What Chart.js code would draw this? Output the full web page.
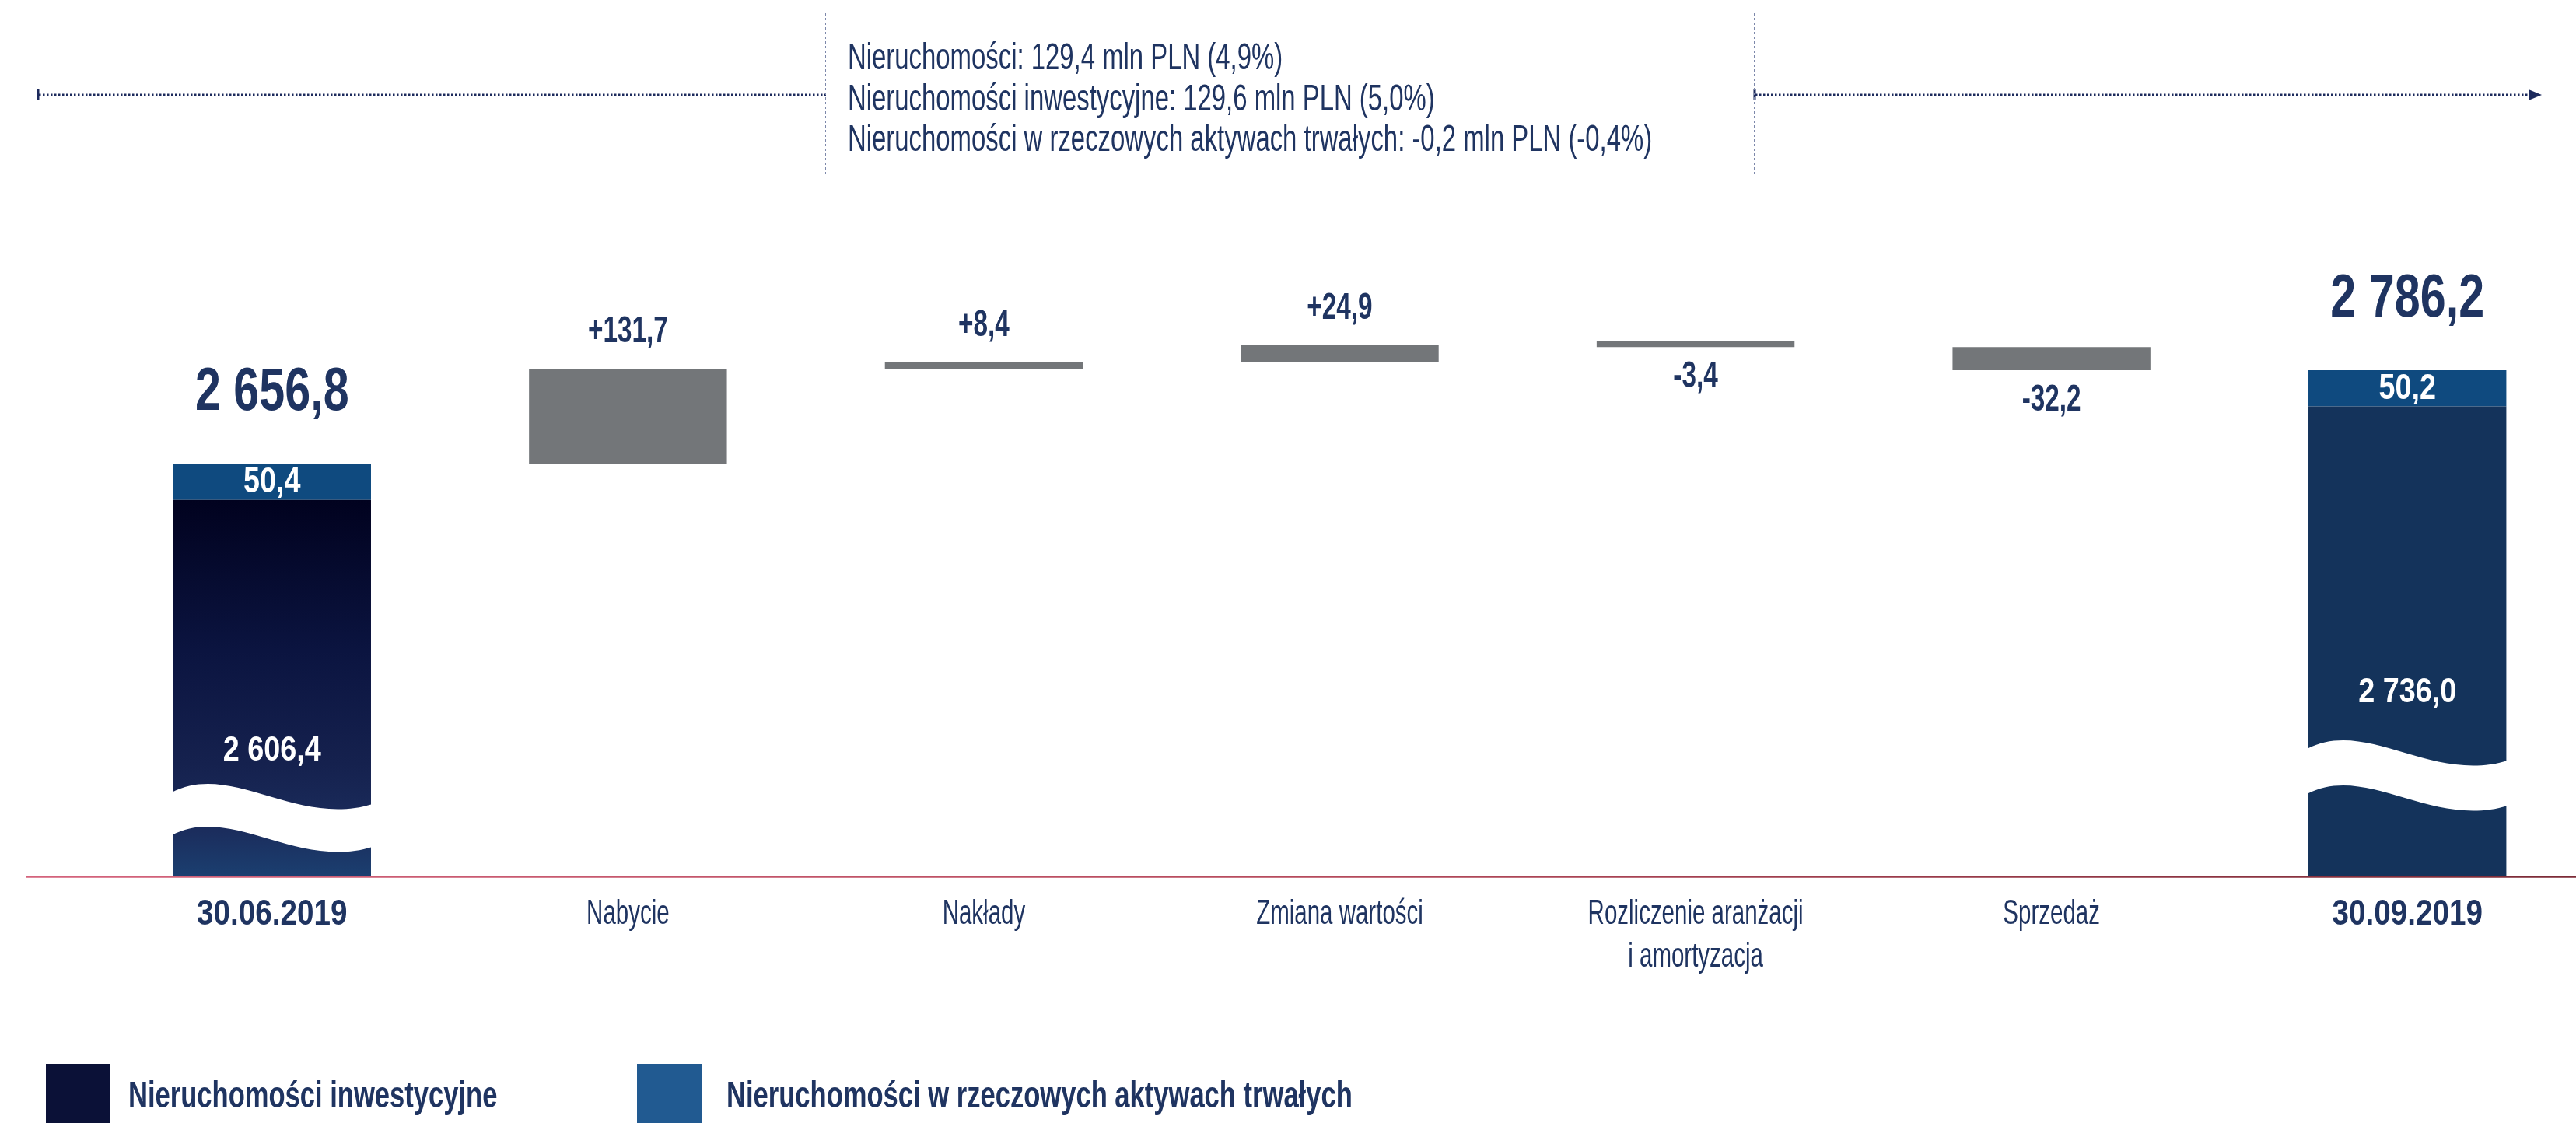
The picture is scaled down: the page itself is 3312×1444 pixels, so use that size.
<!DOCTYPE html>
<html><head><meta charset="utf-8">
<script src="https://cdn.jsdelivr.net/npm/chart.js@4/dist/chart.umd.min.js"></script>
<style>
html,body{margin:0;padding:0;background:#fff;overflow:hidden;}
#wrap{position:relative;width:3330px;height:1444px;}
</style></head><body>
<div id="wrap"><canvas id="c"></canvas></div>
<script>
// ---------------- DATA ----------------
const categories = ['30.06.2019', 'Nabycie', 'Nakłady', 'Zmiana wartości', ['Rozliczenie aranżacji', 'i amortyzacja'], 'Sprzedaż', '30.09.2019'];
const seriesNames = ['Nieruchomości inwestycyjne', 'Nieruchomości w rzeczowych aktywach trwałych'];
const investmentValues = [2606.4, 2736.0];      // start, end
const fixedAssetValues = [50.4, 50.2];          // start, end
const changeValues = [131.7, 8.4, 24.9, -3.4, -32.2];
const totalLabels = ['2 656,8', '2 786,2'];
const investmentLabels = ['2 606,4', '2 736,0'];
const fixedAssetLabels = ['50,4', '50,2'];
const changeLabels = ['+131,7', '+8,4', '+24,9', '-3,4', '-32,2'];
const summaryLines = [
  'Nieruchomości: 129,4 mln PLN (4,9%)',
  'Nieruchomości inwestycyjne: 129,6 mln PLN (5,0%)',
  'Nieruchomości w rzeczowych aktywach trwałych: -0,2 mln PLN (-0,4%)'
];
const axisMin = 2084.2;   // broken axis start
const axisMax = 2976;

// ---------------- BUILD ----------------
const N = categories.length;
const last = N - 1;
const invData = new Array(N).fill(null);
invData[0] = investmentValues[0]; invData[last] = investmentValues[1];
const fixData = new Array(N).fill(null);
fixData[0] = [investmentValues[0], investmentValues[0] + fixedAssetValues[0]];
fixData[last] = [investmentValues[1], investmentValues[1] + fixedAssetValues[1]];
const wfData = new Array(N).fill(null);
let running = investmentValues[0] + fixedAssetValues[0];
changeValues.forEach((v, i) => { wfData[i + 1] = [running, running + v]; running += v; });

const FONT = '"Liberation Sans", Arial, sans-serif';
const INK = '#1f3461';

function txt(ctx, s, x, y, o) {
  ctx.save();
  ctx.font = `${o.weight || 'normal'} ${o.size}px ${FONT}`;
  ctx.fillStyle = o.color || INK;
  ctx.textBaseline = 'middle';
  ctx.textAlign = o.align || 'center';
  ctx.translate(x, y);
  ctx.scale(o.sx || 1, 1);
  ctx.fillText(s, 0, 0);
  ctx.restore();
}

const waves = [
  { index: 0, upper: 108, band: 55, labelOff: 161 },
  { index: last, upper: 164, band: 58, labelOff: 236 }
];

function wavePath(ctx, xL, w, yL, band) {
  const xR = xL + w;
  ctx.beginPath();
  ctx.moveTo(xL, yL);
  ctx.bezierCurveTo(xL + 0.3 * w, yL - 40, xL + 0.62 * w, yL + 45, xR, yL + 15);
  ctx.lineTo(xR, yL + 15 + band);
  ctx.bezierCurveTo(xL + 0.62 * w, yL + 45 + band, xL + 0.3 * w, yL - 40 + band, xL, yL + band);
  ctx.closePath();
}

const decor = {
  id: 'decor',
  afterDatasetsDraw(chart) {
    const ctx = chart.ctx;
    const area = chart.chartArea;
    const B = area.bottom;
    const xs = chart.scales.x;
    const invMeta = chart.getDatasetMeta(0);
    const fixMeta = chart.getDatasetMeta(1);
    const wfMeta = chart.getDatasetMeta(2);

    // waves (axis break)
    waves.forEach(wv => {
      const el = invMeta.data[wv.index];
      const xL = el.x - el.width / 2 - 2;
      ctx.save();
      ctx.fillStyle = '#ffffff';
      wavePath(ctx, xL, el.width + 4, B - wv.upper, wv.band);
      ctx.fill();
      ctx.restore();
    });

    // axis line
    ctx.save();
    const g = ctx.createLinearGradient(33, 0, 3312, 0);
    g.addColorStop(0, '#d4637c');
    g.addColorStop(0.5, '#b64a5c');
    g.addColorStop(1, '#7c2b37');
    ctx.strokeStyle = g; ctx.lineWidth = 2.5;
    ctx.beginPath(); ctx.moveTo(33, B + 0.5); ctx.lineTo(3312, B + 0.5); ctx.stroke();
    ctx.restore();

    // category labels at the x-scale tick positions
    chart.data.labels.forEach((lab, i) => {
      const x = xs.getPixelForTick(i);
      const lines = Array.isArray(lab) ? lab : [lab];
      const bold = i === 0 || i === last;
      lines.forEach((ln, j) => {
        txt(ctx, ln, x, B + 49 + j * 55, bold ? { size: 46, weight: 'bold', sx: 0.84 } : { size: 44, sx: 0.67 });
      });
    });

    // total / segment labels
    [0, last].forEach((idx, k) => {
      const fe = fixMeta.data[idx];
      const top = Math.min(fe.y, fe.base), bot = Math.max(fe.y, fe.base);
      txt(ctx, totalLabels[k], fe.x, top - 90, { size: 77, weight: 'bold', sx: 0.77 });
      txt(ctx, fixedAssetLabels[k], fe.x, (top + bot) / 2 + 1, { size: 46, weight: 'bold', color: '#ffffff', sx: 0.82 });
      const wv = waves[k];
      txt(ctx, investmentLabels[k], fe.x, B - wv.labelOff, { size: 45, weight: 'bold', color: '#ffffff', sx: 0.84 });
    });

    // change labels
    changeValues.forEach((v, i) => {
      const el = wfMeta.data[i + 1];
      const top = Math.min(el.y, el.base), bot = Math.max(el.y, el.base);
      const o = { size: 49, weight: 'bold', sx: 0.68 };
      if (v >= 0) txt(ctx, changeLabels[i], el.x, top - 47, o);
      else txt(ctx, changeLabels[i], el.x, bot + 38, o);
    });

    // top annotation
    ctx.save();
    ctx.strokeStyle = '#1c2a5c'; ctx.lineWidth = 3; ctx.setLineDash([2.5, 2.5]);
    ctx.beginPath(); ctx.moveTo(50, 122); ctx.lineTo(1062, 122); ctx.stroke();
    ctx.beginPath(); ctx.moveTo(2257, 122); ctx.lineTo(3254, 122); ctx.stroke();
    ctx.setLineDash([]);
    ctx.lineWidth = 3;
    ctx.beginPath(); ctx.moveTo(49, 115); ctx.lineTo(49, 129); ctx.stroke();
    ctx.beginPath(); ctx.moveTo(2256, 115); ctx.lineTo(2256, 129); ctx.stroke();
    ctx.fillStyle = '#1c2a5c';
    ctx.beginPath(); ctx.moveTo(3251, 115); ctx.lineTo(3268, 122); ctx.lineTo(3251, 129); ctx.closePath(); ctx.fill();
    ctx.strokeStyle = '#7d88aa'; ctx.lineWidth = 1; ctx.setLineDash([3, 3]);
    ctx.beginPath(); ctx.moveTo(1061.5, 17); ctx.lineTo(1061.5, 227); ctx.stroke();
    ctx.beginPath(); ctx.moveTo(2255.5, 17); ctx.lineTo(2255.5, 227); ctx.stroke();
    ctx.restore();
    summaryLines.forEach((s, i) => txt(ctx, s, 1090, 76 + i * 52.5, { size: 48, sx: 0.685, align: 'left' }));

    // legend
    const legendColors = ['#0b1137', '#215a91'];
    const boxX = [59, 819], textX = [165, 934];
    seriesNames.forEach((s, i) => {
      ctx.save(); ctx.fillStyle = legendColors[i];
      ctx.fillRect(boxX[i], 1368, 83, 90); ctx.restore();
      txt(ctx, s, textX[i], 1411, { size: 48, weight: 'bold', sx: 0.72, align: 'left' });
    });
  }
};

const chart = new Chart(document.getElementById('c'), {
  type: 'bar',
  data: {
    labels: categories,
    datasets: [
      {
        label: seriesNames[0],
        data: invData,
        grouped: false,
        backgroundColor: (c) => {
          if (c.dataIndex !== 0) return '#14335b';
          const ch = c.chart; const a = ch.chartArea;
          if (!a) return '#0b1440';
          const top = ch.scales.y.getPixelForValue(investmentValues[0]);
          const gr = ch.ctx.createLinearGradient(0, top, 0, a.bottom);
          gr.addColorStop(0, '#01021f');
          gr.addColorStop(0.4, '#0b1440');
          gr.addColorStop(0.7, '#15214e');
          gr.addColorStop(0.88, '#1b2d5d');
          gr.addColorStop(1, '#1b3f70');
          return gr;
        }
      },
      { label: seriesNames[1], data: fixData, grouped: false, backgroundColor: '#0f4a7f' },
      { label: 'Zmiany', data: wfData, grouped: false, backgroundColor: '#737679', minBarLength: 8 }
    ]
  },
  options: {
    responsive: true,
    maintainAspectRatio: false,
    animation: false,
    devicePixelRatio: 1,
    layout: { padding: { top: 300, left: 121, right: 6, bottom: 0 } },
    datasets: { bar: { categoryPercentage: 0.556, barPercentage: 1 } },
    plugins: { legend: { display: false }, tooltip: { enabled: false } },
    scales: {
      x: {
        grid: { display: false, drawTicks: false },
        border: { display: false },
        afterFit: (s) => { s.height = 317; },
        ticks: { display: false, autoSkip: false, maxRotation: 0 }
      },
      y: { display: false, min: axisMin, max: axisMax }
    }
  },
  plugins: [decor]
});
</script>
</body></html>
